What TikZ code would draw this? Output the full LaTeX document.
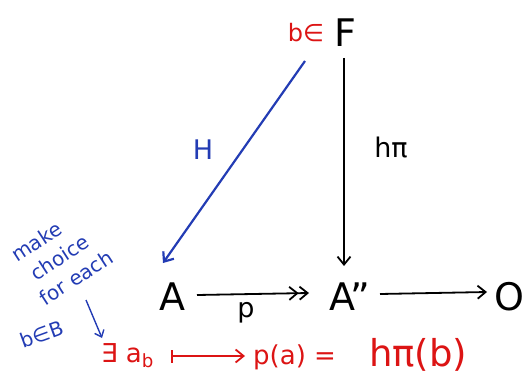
\documentclass[tikz,border=0pt]{standalone}
\usepackage{fontspec}
\setmainfont{DejaVu Sans}
\usetikzlibrary{arrows.meta}
\definecolor{penblue}{RGB}{35,60,180}
\definecolor{penred}{RGB}{220,20,20}
\tikzset{
  obj/.style={font=\fontsize{38}{40}\selectfont, inner sep=2pt},
  lab/.style={font=\fontsize{27}{29}\selectfont, inner sep=1pt},
  note/.style={font=\fontsize{20}{26}\selectfont, inner sep=0pt, text=penblue},
  arr/.style={line width=1.8pt, -{Straight Barb[length=8pt,width=13pt]}},
}
\begin{document}
\begin{tikzpicture}[x=1pt,y=-1pt]
\useasboundingbox (0,0) rectangle (526,379);
% objects
\node[obj] (F) at (345,33) {F};
\node[lab, text=penred, font=\fontsize{24}{26}\selectfont] (bin) at (306,33) {b∈};
\node[obj] (A) at (172,297) {A};
\node[obj] (A2) at (350,297) {A''};
\node[obj, anchor=east, inner sep=0pt] (O) at (525,297) {O};
% arrows
\coordinate (Hs) at (305,61);
\coordinate (He) at (163,263);
\draw[arr, penblue, line width=2.2pt] (Hs) -- (He);
\node[lab, text=penblue] (H) at (203,150) {H};
\coordinate (hs) at (344,58);
\coordinate (he) at (344,266);
\draw[arr] (hs) -- (he);
\node[lab] (hpi) at (391,148) {hπ};
\coordinate (ps) at (197,295);
\coordinate (pe) at (309,293);
\draw[line width=1.8pt, -{Straight Barb[length=8pt,width=13pt]Straight Barb[length=8pt,width=13pt]}] (ps) -- (pe);
\node[lab] (p) at (246,313) {p};
\coordinate (qs) at (380,294);
\coordinate (qe) at (487,292);
\draw[arr] (qs) -- (qe);
% note
\node[note, rotate=33, align=left] (n1) at (62,256) {make\\\hspace*{6pt}choice\\for each};
\node[note, rotate=20, font=\fontsize{20}{22}\selectfont] (n4) at (42,334) {b∈B};
\coordinate (ns) at (86,300);
\coordinate (ne) at (102,338);
\draw[penblue, line width=1.4pt, -{Straight Barb[length=6pt,width=10pt]}] (ns) -- (ne);
% bottom line
\node[lab, text=penred, anchor=west, font=\fontsize{26}{28}\selectfont] (ex) at (100,356) {∃ a\textsubscript{b}};
\coordinate (ms) at (171,356);
\coordinate (me) at (245,356);
\draw[penred, line width=1.8pt, {Bar[width=13pt]}-{Straight Barb[length=8pt,width=13pt]}] (ms) -- (me);
\node[lab, text=penred, anchor=west, font=\fontsize{26}{28}\selectfont] (eq) at (252,357) {p(a) =};
\node[lab, text=penred, anchor=west, font=\fontsize{37}{39}\selectfont] (hb) at (368,355) {hπ(b)};
\end{tikzpicture}
\end{document}
